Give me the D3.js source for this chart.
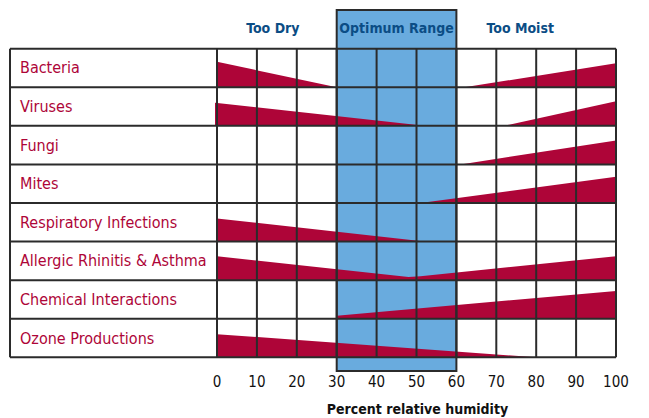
<!DOCTYPE html>
<html><head><meta charset="utf-8">
<script src="https://cdn.jsdelivr.net/npm/d3@7"></script>
<style>
html,body{margin:0;padding:0;background:#fff;}
text{font-family:"Liberation Sans Narrow","DejaVu Sans Condensed","Roboto Condensed",sans-serif;}
</style></head>
<body>
<svg id="chart" width="649" height="418"></svg>
<script>
// ---- data ----
const categories = ["Bacteria","Viruses","Fungi","Mites","Respiratory Infections","Allergic Rhinitis & Asthma","Chemical Interactions","Ozone Productions"];
// each category: list of wedge outlines as [humidity %, relative level 0..1]
const bacteria   = [[[0,0.66],[30,0]],[[62,0],[100,0.62]]];
const viruses    = [[[-0.5,0.6],[52,0]],[[72,0],[100,0.64]]];
const fungi      = [[[61,0],[100,0.62]]];
const mites      = [[[51,0],[100,0.68]]];
const respiratory= [[[0,0.6],[52,0]]];
const allergic   = [[[0,0.62],[48,0.08],[51,0.1],[100,0.62]]];
const chemical   = [[[30,0.08],[100,0.72]]];
const ozone      = [[[0,0.6],[80,0]]];
const seriesWedges = [bacteria,viruses,fungi,mites,respiratory,allergic,chemical,ozone];
const ticks = [0,10,20,30,40,50,60,70,80,90,100];
const zones = [{label:"Too Dry",at:14},{label:"Optimum Range",at:45},{label:"Too Moist",at:76}];
const optimum = [30,60];
const axisTitle = "Percent relative humidity";

// ---- drawing ----
const svg = d3.select("#chart");
const x = d3.scaleLinear().domain([0,100]).range([217,616]);
const y = d3.scaleBand().domain(categories).range([48.7,357.3]);
const tableLeft = 10;
const red = "#ae0538", blue = "#69abde", grid = "#2b2b2b";

// optimum column background
svg.append("rect")
  .attr("x", x(optimum[0])).attr("y", 10)
  .attr("width", x(optimum[1]) - x(optimum[0])).attr("height", 361)
  .attr("fill", blue);

// wedges
const h = y.bandwidth();
seriesWedges.forEach((wedges, i) => {
  const cat = categories[i];
  const base = y(cat) + h;
  wedges.forEach(pts => {
    const poly = [[x(pts[0][0]), base]]
      .concat(pts.map(p => [x(p[0]), base - p[1]*h]))
      .concat([[x(pts[pts.length-1][0]), base]]);
    svg.append("path")
      .attr("d", d3.line()(poly) + "Z")
      .attr("fill", red);
  });
});

// grid lines
const g = svg.append("g").attr("stroke", grid).attr("stroke-width", 2).attr("fill","none");
categories.concat(["__end"]).forEach((c, i) => {
  const yy = i < categories.length ? y(c) : y.range()[1];
  g.append("line").attr("x1", tableLeft).attr("x2", x(100)).attr("y1", yy).attr("y2", yy);
});
g.append("line").attr("x1", tableLeft).attr("x2", tableLeft).attr("y1", y.range()[0]).attr("y2", y.range()[1]);
ticks.forEach(t => {
  g.append("line").attr("x1", x(t)).attr("x2", x(t)).attr("y1", y.range()[0]).attr("y2", y.range()[1]);
});
// optimum outline
svg.append("rect")
  .attr("x", x(optimum[0])).attr("y", 10)
  .attr("width", x(optimum[1]) - x(optimum[0])).attr("height", 361)
  .attr("fill", "none").attr("stroke", grid).attr("stroke-width", 2);

// row labels
svg.append("g").selectAll("text").data(categories).join("text")
  .attr("x", 20).attr("y", d => y(d) + h/2 + 5.5)
  .attr("fill", red).attr("font-size", 16)
  .text(d => d);

// zone headers
svg.append("g").selectAll("text").data(zones).join("text")
  .attr("x", d => x(d.at)).attr("y", 33)
  .attr("text-anchor","middle").attr("font-weight","bold")
  .attr("fill", "#0b4d85").attr("font-size", 14)
  .text(d => d.label);

// x axis tick labels
svg.append("g").selectAll("text").data(ticks).join("text")
  .attr("x", d => x(d)).attr("y", 387)
  .attr("text-anchor", "middle").attr("fill", "#111").attr("font-size", 15)
  .text(d => d);

svg.append("text")
  .attr("x", x(50)+1).attr("y", 414)
  .attr("text-anchor","middle").attr("font-weight","bold")
  .attr("fill","#111").attr("font-size",14)
  .text(axisTitle);
</script>
</body></html>
